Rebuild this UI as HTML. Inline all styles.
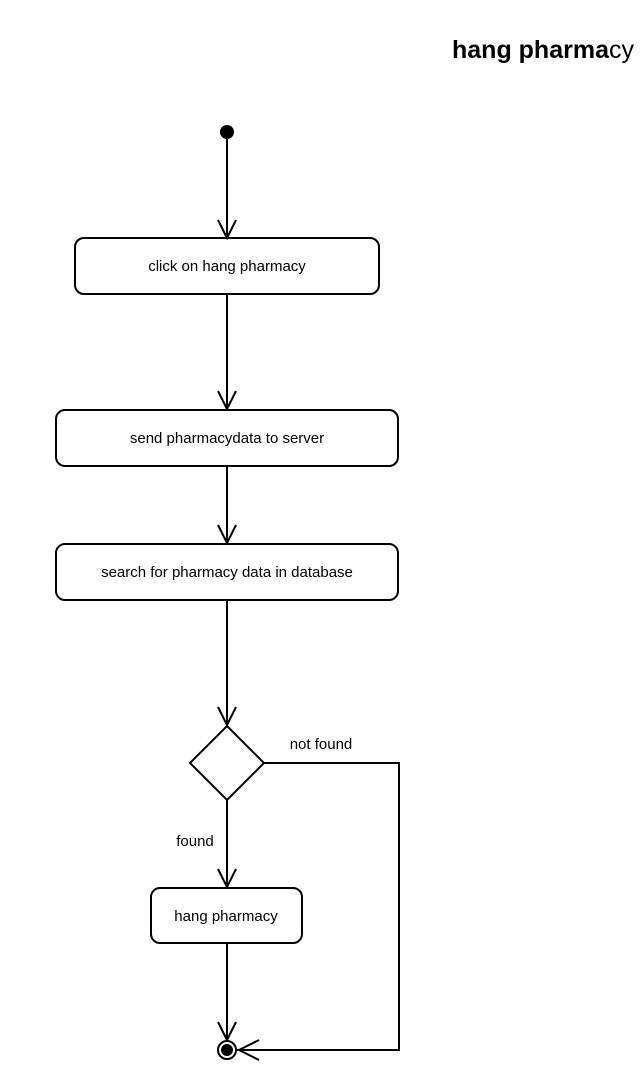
<!DOCTYPE html>
<html><head><style>
html,body{margin:0;padding:0;background:#fff;}
</style></head><body>
<svg width="640" height="1085" xmlns="http://www.w3.org/2000/svg" style="display:block">
<rect width="640" height="1085" fill="#fff"/>
<text x="452" y="58" font-family="Liberation Sans, sans-serif" font-size="25" font-weight="bold" fill="#000">hang pharma<tspan font-weight="normal">cy</tspan></text>
<g stroke="#000" stroke-width="2" fill="none">
<line x1="227" y1="132" x2="227" y2="237"/>
<polyline points="218,220 227,238 236,220"/>
<rect x="75" y="238" width="304" height="56" rx="9"/>
<line x1="227" y1="294" x2="227" y2="409"/>
<polyline points="218,391 227,409 236,391"/>
<rect x="56" y="410" width="342" height="56" rx="9"/>
<line x1="227" y1="466" x2="227" y2="543"/>
<polyline points="218,525 227,543 236,525"/>
<rect x="56" y="544" width="342" height="56" rx="9"/>
<line x1="227" y1="600" x2="227" y2="725"/>
<polyline points="218,707 227,725 236,707"/>
<polygon points="227,726 264,763 227,800 190,763"/>
<polyline points="264,763 399,763 399,1050 237,1050"/>
<polyline points="259,1040 239,1050 259,1060"/>
<line x1="227" y1="800" x2="227" y2="887"/>
<polyline points="218,869 227,887 236,869"/>
<rect x="151" y="888" width="151" height="55" rx="9"/>
<line x1="227" y1="943" x2="227" y2="1040"/>
<polyline points="218,1022 227,1040 236,1022"/>
<circle cx="227" cy="1050" r="9"/>
</g>
<circle cx="227" cy="132" r="7" fill="#000"/>
<circle cx="227" cy="1050" r="6" fill="#000"/>
<g font-family="Liberation Sans, sans-serif" font-size="15" fill="#000" text-anchor="middle">
<text x="227" y="271">click on hang pharmacy</text>
<text x="227" y="443">send pharmacydata to server</text>
<text x="227" y="577">search for pharmacy data in database</text>
<text x="226" y="921">hang pharmacy</text>
<text x="321" y="749">not found</text>
<text x="195" y="846">found</text>
</g>
</svg>
</body></html>
